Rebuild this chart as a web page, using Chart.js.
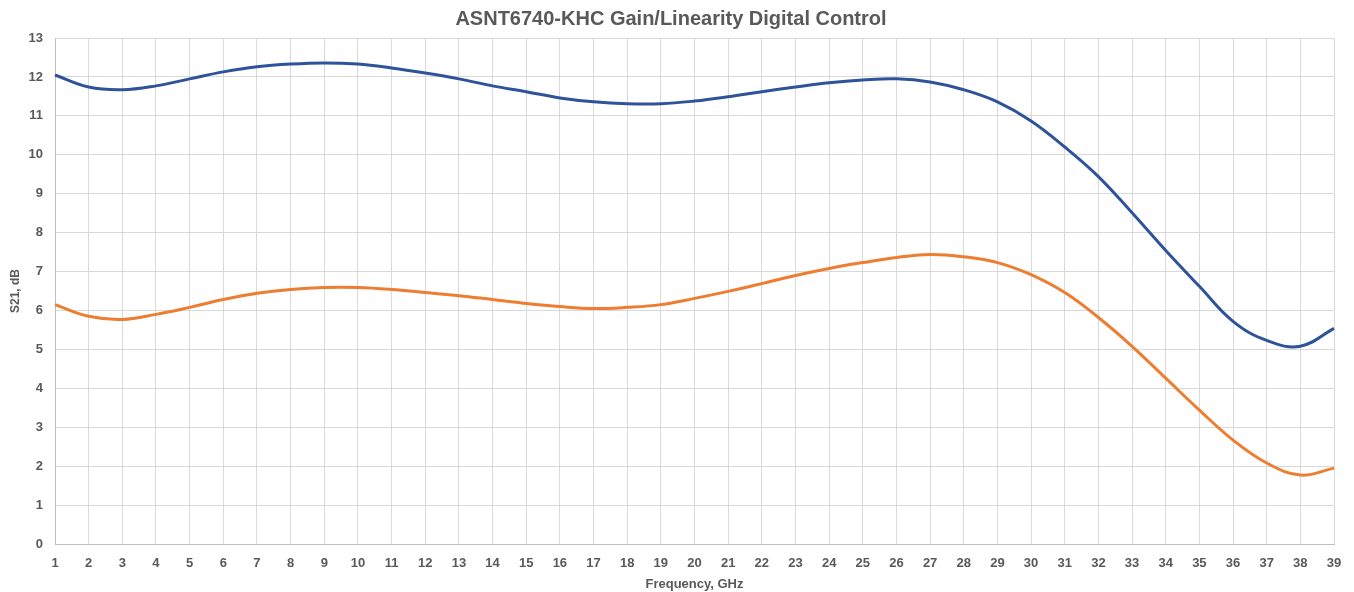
<!DOCTYPE html>
<html>
<head>
<meta charset="utf-8">
<script src="https://cdn.jsdelivr.net/npm/chart.js@4.4.1/dist/chart.umd.min.js"></script>
<style>
    html, body { margin: 0; padding: 0; background: #fff; }
    #wrap { width: 1354px; height: 592px; }
</style>
</head>
<body>
<div id="wrap"><canvas id="grafico"></canvas></div>
<script>
// ===== DADOS =====
const frequencias = [1, 2, 3, 4, 5, 6, 7, 8, 9, 10, 11, 12, 13, 14, 15, 16, 17, 18, 19, 20,
                     21, 22, 23, 24, 25, 26, 27, 28, 29, 30, 31, 32, 33, 34, 35, 36, 37, 38, 39];

const ganhoAlto = [12.05, 11.74, 11.67, 11.77, 11.95, 12.13, 12.26, 12.33, 12.36, 12.33,
                   12.23, 12.10, 11.95, 11.77, 11.62, 11.46, 11.36, 11.31, 11.31, 11.38,
                   11.49, 11.62, 11.74, 11.85, 11.92, 11.95, 11.87, 11.67, 11.36, 10.87,
                   10.20, 9.44, 8.51, 7.54, 6.62, 5.72, 5.23, 5.08, 5.54];

const ganhoBaixo = [6.15, 5.85, 5.77, 5.90, 6.08, 6.28, 6.44, 6.54, 6.59, 6.59,
                    6.54, 6.46, 6.38, 6.28, 6.18, 6.10, 6.05, 6.08, 6.15, 6.31,
                    6.49, 6.69, 6.90, 7.08, 7.23, 7.36, 7.44, 7.38, 7.23, 6.92,
                    6.46, 5.82, 5.08, 4.26, 3.44, 2.67, 2.08, 1.77, 1.95];

const TITULO   = 'ASNT6740-KHC Gain/Linearity Digital Control';
const TITULO_X = 'Frequency, GHz';
const TITULO_Y = 'S21, dB';

// ===== ESTILO =====
const FONTE  = 'Liberation Sans';
const CINZA  = '#595959';
const GRADE  = '#d9d9d9';

// ===== GRÁFICO =====
const ctx = document.getElementById('grafico').getContext('2d');
new Chart(ctx, {
    type: 'line',
    data: {
        labels: frequencias.map(String),
        datasets: [
            {
                data:        ganhoAlto,
                borderColor: '#2f539b',
                borderWidth: 3,
                pointRadius: 0,
                tension:     0.4,
                fill:        false,
            },
            {
                data:        ganhoBaixo,
                borderColor: '#ed7d31',
                borderWidth: 3,
                pointRadius: 0,
                tension:     0.4,
                fill:        false,
            }
        ]
    },
    options: {
        responsive: true,
        maintainAspectRatio: false,
        animation: false,
        layout: { padding: { left: 8, right: 20, top: 7, bottom: 0 } },
        plugins: {
            legend: { display: false },
            tooltip: { enabled: false },
            title: {
                display: true,
                text: TITULO,
                color: CINZA,
                font: { family: FONTE, size: 20, weight: 'bold' },
                padding: { top: 0, bottom: 7 }
            }
        },
        scales: {
            x: {
                offset: false,
                grid: { color: GRADE, lineWidth: 1, drawTicks: false },
                border: { color: '#bfbfbf' },
                ticks: {
                    color: CINZA,
                    font: { family: FONTE, size: 13, weight: 'bold' },
                    padding: 12,
                    maxRotation: 0,
                    autoSkip: false
                },
                title: {
                    display: true,
                    text: TITULO_X,
                    color: CINZA,
                    font: { family: FONTE, size: 13, weight: 'bold' },
                    padding: { top: 2, bottom: 0 }
                },
                afterFit: s => { s.height = 48; }
            },
            y: {
                min: 0,
                max: 13,
                grid: { color: GRADE, lineWidth: 1, drawTicks: false },
                border: { color: '#bfbfbf' },
                ticks: {
                    stepSize: 1,
                    color: CINZA,
                    font: { family: FONTE, size: 13, weight: 'bold' },
                    padding: 12
                },
                title: {
                    display: true,
                    text: TITULO_Y,
                    color: CINZA,
                    font: { family: FONTE, size: 12, weight: 'bold' },
                    padding: { top: 0, bottom: 2 }
                },
                afterFit: s => { s.width = 47; }
            }
        }
    }
});
</script>
</body>
</html>
